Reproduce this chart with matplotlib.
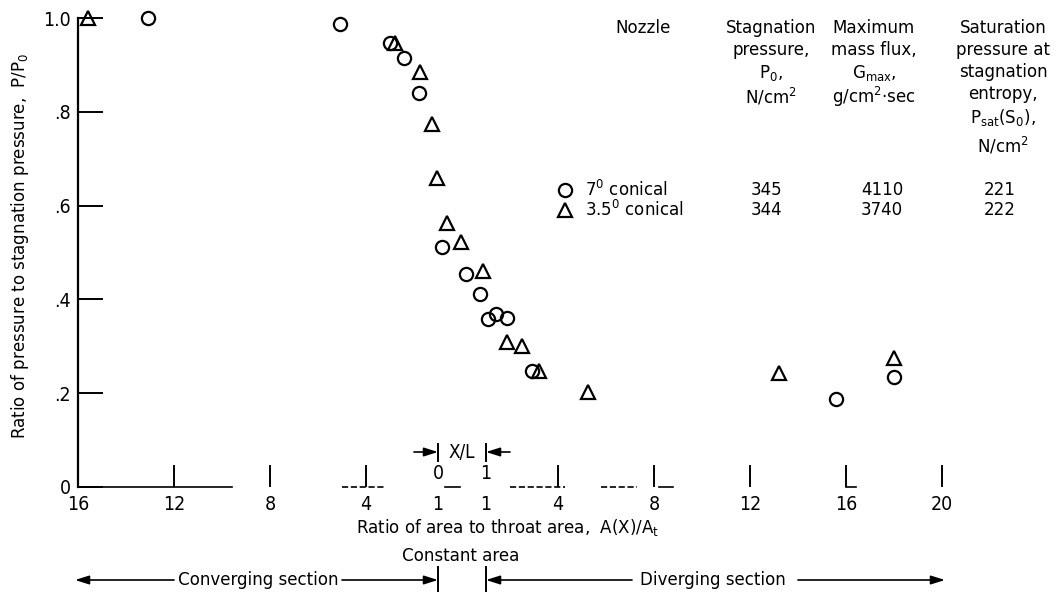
import matplotlib
matplotlib.use("Agg")
import matplotlib.pyplot as plt
from matplotlib.lines import Line2D

plt.rcParams['font.family'] = ['DejaVu Sans']
plt.rcParams['font.stretch'] = 'condensed'
plt.rcParams['mathtext.default'] = 'regular'

# --- Measured pressure ratios, P/P0 ---
# 7 deg conical nozzle
c7_conv_area = [13.1, 5.1, 3.0, 2.4, 1.8]
c7_conv_p = [1.0, 0.987, 0.947, 0.915, 0.84]
c7_const_xl = [0.08, 0.58, 0.87]
c7_const_p = [0.512, 0.454, 0.412]
c7_div_area = [1.08, 1.42, 1.88, 2.92, 15.6, 18.0]
c7_div_p = [0.358, 0.369, 0.360, 0.247, 0.188, 0.235]

# 3.5 deg conical nozzle
c35_conv_area = [15.6, 2.8, 1.75, 1.25, 1.04]
c35_conv_p = [1.0, 0.947, 0.885, 0.774, 0.659]
c35_const_xl = [0.19, 0.48, 0.94]
c35_const_p = [0.563, 0.522, 0.460]
c35_div_area = [1.88, 2.5, 3.2, 5.25, 13.2, 18.0]
c35_div_p = [0.309, 0.301, 0.247, 0.203, 0.243, 0.275]

# test conditions table
nozzle_names = ['7$^0$ conical', '3.5$^0$ conical']
stag_pressure = ['345', '344']
max_mass_flux = ['4110', '3740']
sat_pressure = ['221', '222']

conv_ticks = [16, 12, 8, 4, 1]
div_ticks = [1, 4, 8, 12, 16, 20]


# --- Station along the nozzle: converging (area), constant (X/L), diverging (area) ---
def conv_pos(a):
    return [16 - v for v in a]


def const_pos(xl):
    return [15 + 2 * v for v in xl]


def div_pos(a):
    return [16 + v for v in a]


W, H = 1063, 592
fig = plt.figure(figsize=(W / 100, H / 100), dpi=100)
ax = fig.add_axes([78 / W, 105 / H, 985 / W, 487 / H])
ax.set_xlim(0, 985 / 24)
ax.set_ylim(0, 487 / 469)

mstyle = dict(linestyle='none', mfc='none', mec='black', mew=1.6, clip_on=False)
x7 = conv_pos(c7_conv_area) + const_pos(c7_const_xl) + div_pos(c7_div_area)
y7 = c7_conv_p + c7_const_p + c7_div_p
x35 = conv_pos(c35_conv_area) + const_pos(c35_const_xl) + div_pos(c35_div_area)
y35 = c35_conv_p + c35_const_p + c35_div_p
ax.plot(x7, y7, marker='o', ms=9.5, **mstyle)
ax.plot(x35, y35, marker='^', ms=10.5, **mstyle)

# axes frame
for s in ['top', 'right', 'bottom']:
    ax.spines[s].set_visible(False)
ax.spines['left'].set_bounds(0, 1.0)
ax.spines['left'].set_linewidth(1.6)

ax.set_yticks([0, 0.2, 0.4, 0.6, 0.8, 1.0])
ax.set_yticklabels(['0', '.2', '.4', '.6', '.8', '1.0'])
ax.tick_params(axis='y', direction='in', length=18, width=1.4, pad=5, labelsize=14)

ax.xaxis.remove_overlapping_locs = False
ax.set_xticks(conv_pos(conv_ticks) + div_pos(div_ticks))
ax.set_xticklabels([str(t) for t in conv_ticks] + [str(t) for t in div_ticks])
ax.set_xticks(conv_pos(conv_ticks[1:4]) + div_pos(div_ticks[1:]), minor=True)
ax.tick_params(axis='x', which='major', length=0, pad=6, labelsize=14)
ax.tick_params(axis='x', which='minor', direction='in', length=16, width=1.4)

# broken baseline
for x0, x1, ls in [(0, 6.4, '-'), (11.0, 12.8, '--'), (15.3, 15.9, '-'),
                   (18.0, 20.3, '--'), (21.8, 23.3, '--'), (24.2, 24.8, '-'),
                   (32.0, 32.4, '-')]:
    ax.plot([x0, x1], [0, 0], color='black', lw=1.2, ls=ls, clip_on=False)

# X/L scale of the constant-area section
ax.text(15, 0.028, '0', ha='center', va='center', fontsize=14)
ax.text(17, 0.028, '1', ha='center', va='center', fontsize=14)
ax.text(16, 0.074, 'X/L', ha='center', va='center', fontsize=13.5)

lab = 13.3
fig.text(20 / W, 1 - 246 / H, 'Ratio of pressure to stagnation pressure,  P/P$_0$',
         rotation=90, ha='center', va='center', fontsize=lab)

arrow = dict(arrowstyle='-|>,head_length=0.7,head_width=0.22', color='black',
             lw=1.2, shrinkA=0, shrinkB=0, mutation_scale=12)


def fpx(x, y):
    return (x, H - y)


def arr(x0, x1, y):
    ax.annotate('', xy=fpx(x1, y), xytext=fpx(x0, y), xycoords='figure pixels',
                textcoords='figure pixels', arrowprops=arrow)


def bar(x, y0, y1):
    fig.add_artist(Line2D([x / W, x / W], [1 - y0 / H, 1 - y1 / H],
                          color='black', lw=1.4, transform=fig.transFigure))


arr(414, 438, 452)
arr(510, 486, 452)
bar(438, 444, 461)
bar(486, 444, 461)

fig.text(508 / W, 1 - 527 / H, 'Ratio of area to throat area,  A(X)/A$_t$',
         ha='center', va='center', fontsize=lab)
fig.text(461 / W, 1 - 556 / H, 'Constant area', ha='center', va='center', fontsize=lab)

# section arrows along the bottom
fig.text(258 / W, 1 - 580 / H, 'Converging section', ha='center', va='center', fontsize=lab)
arr(174, 75, 580)
arr(342, 438, 580)
fig.text(713 / W, 1 - 580 / H, 'Diverging section', ha='center', va='center', fontsize=lab)
arr(632, 486, 580)
arr(798, 945, 580)
bar(438, 567, 592)
bar(486, 567, 592)

# test conditions table
hdr = 13.3
fig.text(643 / W, 1 - 28 / H, 'Nozzle', ha='center', va='center', fontsize=hdr)
cols = [
    (771, ['Stagnation', 'pressure,', 'P$_0$,', 'N/cm$^2$'], [28, 50, 73, 97]),
    (874, ['Maximum', 'mass flux,', 'G$_{max}$,', 'g/cm$^2$$\\cdot$sec'], [28, 50, 73, 97]),
    (1003, ['Saturation', 'pressure at', 'stagnation', 'entropy,',
            'P$_{sat}$(S$_0$),', 'N/cm$^2$'], [28, 50, 72, 94, 118, 146]),
]
for cx, lines, ys in cols:
    for line, yy in zip(lines, ys):
        fig.text(cx / W, 1 - yy / H, line, ha='center', va='center', fontsize=hdr)

row_y = [190, 210]
markers = ['o', '^']
for i, ry in enumerate(row_y):
    fig.add_artist(Line2D([565 / W], [1 - ry / H], marker=markers[i], ms=9.5 if i == 0 else 10.5,
                          mfc='none', mec='black', mew=1.6, transform=fig.transFigure))
    fig.text(585 / W, 1 - ry / H, nozzle_names[i], ha='left', va='center', fontsize=hdr)
    fig.text(767 / W, 1 - ry / H, stag_pressure[i], ha='center', va='center', fontsize=hdr)
    fig.text(882 / W, 1 - ry / H, max_mass_flux[i], ha='center', va='center', fontsize=hdr)
    fig.text(1000 / W, 1 - ry / H, sat_pressure[i], ha='center', va='center', fontsize=hdr)

fig.savefig('out.png', dpi=100)
